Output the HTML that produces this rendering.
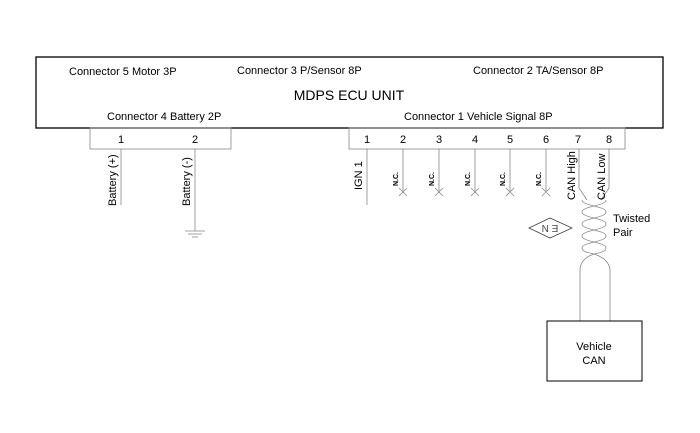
<!DOCTYPE html>
<html><head><style>
html,body{margin:0;padding:0;background:#fff;}
svg{display:block;font-family:"Liberation Sans",Arial,sans-serif;}
</style></head><body>
<svg width="700" height="433" viewBox="0 0 700 433" xmlns="http://www.w3.org/2000/svg">
<rect x="36" y="57" width="627" height="71" fill="none" stroke="#000" stroke-width="1.3"/>
<g font-size="11" fill="#000">
<text x="69" y="75">Connector 5 Motor 3P</text>
<text x="237" y="74">Connector 3 P/Sensor 8P</text>
<text x="473" y="74">Connector 2 TA/Sensor 8P</text>
<text x="107" y="120">Connector 4 Battery 2P</text>
<text x="404" y="120">Connector 1 Vehicle Signal 8P</text>
</g>
<text x="349" y="100" font-size="14" text-anchor="middle">MDPS ECU UNIT</text>
<g fill="none" stroke="#888" stroke-width="0.8">
<rect x="90" y="128" width="141" height="21"/>
<rect x="349" y="128" width="276" height="21"/>
<line x1="121" y1="149" x2="121" y2="205"/>
<line x1="195" y1="149" x2="195" y2="231"/>
<line x1="185" y1="231" x2="205" y2="231"/>
<line x1="188" y1="234" x2="202" y2="234"/>
<line x1="192" y1="237" x2="198" y2="237"/>
<line x1="367" y1="149" x2="367" y2="205"/>
<line x1="403" y1="149" x2="403" y2="191"/>
<line x1="439" y1="149" x2="439" y2="191"/>
<line x1="475" y1="149" x2="475" y2="191"/>
<line x1="510" y1="149" x2="510" y2="191"/>
<line x1="546" y1="149" x2="546" y2="191"/>
<path d="M399 188l8 8M407 188l-8 8M435 188l8 8M443 188l-8 8M471 188l8 8M479 188l-8 8M506 188l8 8M514 188l-8 8M542 188l8 8M550 188l-8 8"/>
<path d="M579 149V188L587 200M609 149V188L601 200"/>
<path d="M582 200C582 206 606 206 606 212C606 218 582 218 582 224C582 230 606 230 606 236C606 242 582 242 582 248C582 252 590 253 594 254"/>
<path d="M606 200C606 206 582 206 582 212C582 218 606 218 606 224C606 230 582 230 582 236C582 242 606 242 606 248C606 252 598 253 594 254"/>
<path d="M580 321V270Q580 259 594 254Q609 259 610 270V321"/>
<polygon points="529,228 550,218 572,228 550,238" stroke="#444"/>
</g>
<rect x="547" y="321" width="95" height="60" fill="none" stroke="#000" stroke-width="1"/>
<text x="594" y="350" font-size="11" text-anchor="middle">Vehicle</text>
<text x="594" y="364" font-size="11" text-anchor="middle">CAN</text>
<g font-size="11" text-anchor="middle">
<text x="121" y="143">1</text><text x="195" y="143">2</text>
<text x="367" y="143">1</text><text x="403" y="143">2</text><text x="439" y="143">3</text>
<text x="475" y="143">4</text><text x="510" y="143">5</text><text x="546" y="143">6</text>
<text x="578" y="143">7</text><text x="609" y="143">8</text>
</g>
<g font-size="11">
<text transform="translate(116,206) rotate(-90)">Battery (+)</text>
<text transform="translate(190,206) rotate(-90)">Battery (-)</text>
<text transform="translate(362,190) rotate(-90)">IGN 1</text>
<text transform="translate(575,200) rotate(-90)">CAN High</text>
<text transform="translate(605,200) rotate(-90)">CAN Low</text>
</g>
<g font-size="7" font-weight="bold">
<text transform="translate(398,186) rotate(-90)">N.C.</text>
<text transform="translate(434,186) rotate(-90)">N.C.</text>
<text transform="translate(470,186) rotate(-90)">N.C.</text>
<text transform="translate(505,186) rotate(-90)">N.C.</text>
<text transform="translate(541,186) rotate(-90)">N.C.</text>
</g>
<text x="550" y="232" font-size="10" text-anchor="middle" fill="#444">N Ǝ</text>
<text x="613" y="222" font-size="11">Twisted</text>
<text x="613" y="236" font-size="11">Pair</text>
</svg>
</body></html>
